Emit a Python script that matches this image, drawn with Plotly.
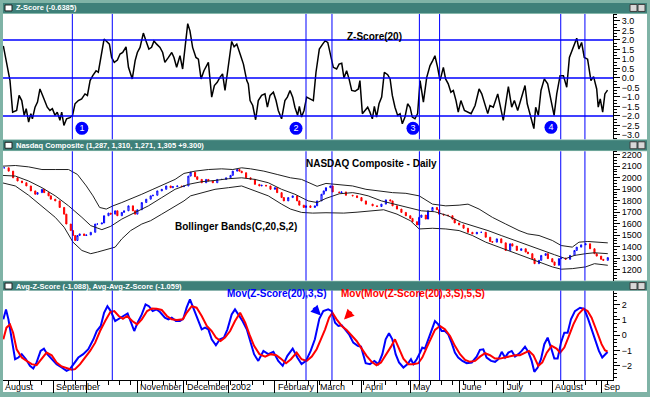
import plotly.graph_objects as go

W, H = 650, 397

# ---------------- data (x = trading-day index counted from 1 Aug 2001) ----------------
month_names = ["August", "September", "November", "December", "2002", "February", "March",
               "April", "May", "June", "July", "August", "Sep"]
month_start = [0, 23, 61, 82, 102, 123, 142, 162, 184, 206, 226, 248, 270]
month_ticks = [0, 23, 38, 61, 82, 102, 123, 142, 162, 184, 206, 226, 248, 270]
event_days = [31.7, 49.7, 137.0, 148.7, 188.1, 197.2, 251.8, 262.7]

z_idx = [0.6, 2.1, 3.6, 4.8, 6.6, 7.7, 8.9, 10, 10.9, 12, 13, 13.7, 14.9, 16, 17.1, 18.3, 19.4, 20.4,
         21.6, 22.7, 23.9, 24.9, 26.1, 26.9, 27.9, 29.1, 30.6, 31.8, 32.9, 34.4, 35.9, 37.4, 38.5, 39.7,
         40.9, 42.4, 43.4, 44.2, 45, 46, 47.2, 48.4, 49.4, 50.6, 52, 53.2, 54.4, 55.9, 57, 58.7, 60, 61,
         62.2, 63.7, 64.9, 66.2, 67.4, 68.5, 69.7, 71.2, 72.4, 73.4, 75, 76.5, 77.5, 78.7, 80.2, 81.4,
         82.5, 83.7, 84.7, 85.9, 87.4, 88.5, 89.7, 91, 93, 94.5, 95.7, 97, 98.2, 99.4, 100.5, 102, 103.5,
         104.6, 105.8, 107.3, 108.8, 110.3, 111, 111.8, 113, 114.3, 115.5, 117, 118.5, 119.6, 120.8,
         122.3, 123.5, 124.5, 126, 127.5, 128.6, 129.8, 131, 132, 133.2, 134, 135, 136.1, 137.3, 138.8,
         140.3, 141.5, 143, 144.5, 145.6, 146.8, 148.3, 149.3, 150.8, 151.9, 153.1, 154.1, 155.3, 156.4,
         157.6, 159.1, 160.6, 161.3, 162.4, 163.6, 164.8, 165.8, 166.9, 167.8, 168.8, 169.9, 171.1,
         172.3, 173.8, 174.9, 175.9, 177.1, 178.3, 179.4, 180.4, 181.6, 182.8, 183.9, 184.9, 186.1,
         187.3, 188.4, 189.9, 191.4, 192.9, 194.1, 195.1, 196.3, 197.4, 198.9, 199.9, 201.1, 202.3,
         203.4, 204.6, 205.6, 206.8, 208.4, 209.9, 211.4, 213.2, 215, 216.2, 217.4, 218.9, 219.9, 221.4,
         223.4, 224.4, 225.9, 227, 228.2, 229.7, 230.9, 232.4, 234.2, 235.7, 236.7, 238.4, 239.7, 240.5,
         241.7, 242.9, 244.4, 245.9, 247.4, 248.8, 250, 251.5, 253, 254.5, 255.7, 257.5, 259, 260,
         261.2, 262.4, 263.9, 265.4, 266.6, 268, 268.7, 269.6, 270.7, 271.7, 272.9]
z_val = [1.69, 0.73, -0.14, -1.8, -1.71, -0.92, -1.19, -1.97, -1.62, -2.32, -1.88, -2.15, -1.54, -1.27,
         -0.58, -0.92, -1.27, -1.54, -1.71, -1.62, -1.97, -1.8, -2.23, -1.8, -2.5, -2.15, -2.09, -1.97,
         -1.36, -1.19, -1.1, -0.84, -0.92, -0.14, 0.12, 0.38, 0.3, 0.82, 1.43, 2.04, 1.92, 1.78, 1.08,
         0.82, 0.94, 1.26, 1.34, 1.64, 0.56, -0.05, 0.91, 1.34, 1.61, 2.36, 1.95, 1.52, 1.61, 1.95,
         1.78, 1.61, 1.34, 0.82, 1.08, 1.34, 1.08, 0.56, 1.17, 0.47, 1.61, 2.86, 2.48, 1.61, 1.08, 0.99,
         -0.05, 0.38, 0.82, -1.01, -0.4, -0.23, 0.03, 0.21, -0.66, 0.73, 1.92, 1.64, 1.78, 1.26, 0.73,
         -0.14, -0.31, -1.19, -1.45, -2.2, -1.19, -0.92, -0.84, -1.54, -0.92, -0.75, -1.19, -1.71,
         -2.15, -1.19, -1.01, -0.66, -1.01, -1.54, -1.97, -1.5, -2.06, -1.71, -1.01, -1.1, -1.19, 0.3,
         1.52, 1.78, 1.95, 1.87, 1.17, 0.56, 0.47, 0.73, 0.77, 0.0, 0.38, -0.05, -0.66, -0.7, -0.58,
         -0.14, -1.88, -1.71, -1.54, -1.8, -2.15, -1.5, -2.06, -1.36, -1.01, 0.3, 0.17, -0.05, -0.92,
         -1.54, -1.97, -1.88, -2.41, -2.06, -1.36, -1.54, -2.06, -2.15, -1.88, -0.14, -1.27, 0.03, 0.65,
         0.91, 1.17, 0.56, -0.14, 0.56, -0.05, -0.31, -0.75, -0.66, -1.19, -1.8, -1.19, -1.71, -1.8,
         -1.88, -1.45, -0.58, -0.84, -1.27, -1.88, -1.45, -1.54, -0.84, -1.45, -2.23, -1.36, -0.45,
         -1.54, -1.19, -1.71, -0.92, -0.4, -1.36, -2.15, -2.67, -1.54, -1.97, -0.66, -0.05, -0.31,
         -1.19, -1.97, -0.84, 0.12, 0.12, -0.49, 1.08, 1.61, 2.09, 1.52, 1.87, 1.08, 0.99, -0.14, 0.07,
         -0.58, -1.54, -1.1, -1.8, -0.84, -0.64]

# Nasdaq closes
px_idx = [1, 3, 5, 7, 9, 11, 13, 15, 16, 18, 19, 21, 22, 24, 26, 28, 29, 31, 32, 33, 34, 35, 37, 38,
          40, 42, 43, 45, 46, 48, 49, 51, 52, 54, 55, 57, 59, 60, 61, 63, 65, 67, 68, 70, 72, 74, 76,
          77, 79, 81, 82, 84, 85, 87, 88, 90, 92, 93, 95, 97, 99, 101, 103, 104, 106, 107, 108, 110,
          112, 114, 116, 117, 119, 121, 123, 124, 126, 127, 129, 131, 133, 134, 136, 137, 139, 141,
          142, 144, 145, 146, 148, 149, 152, 153, 155, 158, 160, 162, 164, 167, 169, 171, 173, 175,
          176, 178, 180, 182, 184, 185, 187, 188, 189, 191, 192, 194, 196, 197, 199, 201, 203, 204,
          206, 208, 210, 212, 214, 216, 218, 220, 221, 223, 225, 227, 229, 230, 232, 234, 236, 237,
          239, 240, 242, 243, 245, 246, 248, 249, 251, 252, 254, 256, 258, 259, 261, 263, 265, 267,
          268, 270, 271, 273]
px_close = [2086, 2057, 1999, 1971, 1956, 1928, 1885, 1856, 1870, 1899, 1870, 1842, 1813, 1798, 1741,
            1683, 1597, 1540, 1497, 1454, 1497, 1511, 1497, 1502, 1525, 1597, 1597, 1606, 1669, 1692,
            1683, 1712, 1669, 1698, 1712, 1755, 1712, 1683, 1721, 1784, 1813, 1842, 1847, 1885, 1899,
            1928, 1913, 1922, 1928, 1922, 1928, 2014, 2048, 2008, 1985, 1956, 1985, 1971, 1956, 1985,
            1985, 1999, 2020, 2057, 2071, 2057, 2043, 1999, 1985, 1942, 1928, 1934, 1928, 1899, 1913,
            1870, 1827, 1798, 1827, 1842, 1798, 1761, 1741, 1755, 1741, 1755, 1798, 1856, 1885, 1913,
            1928, 1876, 1870, 1876, 1847, 1842, 1827, 1798, 1770, 1755, 1749, 1770, 1807, 1798, 1755,
            1727, 1698, 1669, 1646, 1617, 1589, 1655, 1675, 1640, 1712, 1741, 1721, 1683, 1675, 1669,
            1640, 1606, 1589, 1560, 1525, 1511, 1525, 1525, 1482, 1445, 1439, 1468, 1433, 1367, 1425,
            1405, 1367, 1382, 1353, 1339, 1296, 1252, 1281, 1324, 1339, 1296, 1267, 1238, 1296, 1301,
            1290, 1324, 1367, 1396, 1416, 1425, 1382, 1339, 1318, 1290, 1281, 1305]

bb_up_idx = [0, 6, 12, 18, 24, 30, 34, 38, 41, 44, 47, 50, 54, 58, 63, 68, 73, 78, 82, 87, 93, 99, 104,
             108, 112, 118, 124, 130, 135, 139, 142, 146, 152, 158, 164, 170, 176, 182, 188, 194, 200,
             206, 210, 215, 221, 227, 233, 237, 242, 248, 252, 257, 260, 264, 269, 273]
bb_up_val = [2100, 2106, 2094, 2071, 2071, 2071, 2028, 1928, 1842, 1741, 1727, 1755, 1784, 1813, 1856,
             1899, 1942, 1985, 2037, 2057, 2071, 2077, 2071, 2086, 2077, 2057, 2028, 1999, 1985, 1951,
             1925, 1950, 1942, 1928, 1899, 1885, 1870, 1864, 1842, 1770, 1755, 1761, 1770, 1727, 1655,
             1597, 1540, 1511, 1497, 1454, 1410, 1396, 1439, 1445, 1439, 1433]
bb_mid_idx = [0, 6, 12, 18, 24, 30, 36, 40, 45, 49, 54, 60, 66, 72, 78, 84, 90, 96, 102, 108, 114, 120,
              126, 132, 138, 142, 146, 152, 158, 161, 165, 171, 177, 183, 189, 195, 201, 207, 213, 219,
              225, 231, 237, 243, 249, 254, 258, 263, 267, 273]
bb_mid_val = [2020, 2014, 1971, 1913, 1842, 1755, 1655, 1583, 1548, 1577, 1640, 1698, 1755, 1827, 1899,
              1942, 1965, 1976, 1991, 1999, 1985, 1956, 1899, 1856, 1798, 1784, 1820, 1860, 1870, 1860,
              1842, 1798, 1770, 1741, 1712, 1704, 1669, 1612, 1577, 1540, 1497, 1454, 1410, 1367, 1330,
              1296, 1324, 1339, 1347, 1339]
bb_lo_idx = [0, 6, 12, 18, 24, 28, 32, 36, 40, 43, 48, 51, 54, 58, 63, 67, 72, 76, 82, 85, 90, 96, 102,
             108, 114, 120, 126, 130, 135, 140, 146, 154, 160, 166, 172, 178, 184, 188, 194, 200, 206,
             212, 218, 224, 230, 236, 242, 248, 252, 257, 263, 267, 273]
bb_lo_val = [1956, 1928, 1847, 1755, 1655, 1569, 1439, 1367, 1339, 1353, 1382, 1396, 1468, 1540, 1597,
             1626, 1683, 1727, 1798, 1842, 1870, 1899, 1913, 1928, 1885, 1842, 1770, 1727, 1698, 1692,
             1695, 1692, 1700, 1712, 1721, 1683, 1626, 1554, 1560, 1554, 1540, 1497, 1439, 1396, 1353,
             1310, 1267, 1224, 1204, 1209, 1224, 1252, 1238]

avg_idx = [0.6, 1.8, 2.9, 4.4, 5.9, 7.4, 8.9, 10.8, 12.6, 14.1, 15.6, 17.4, 18.9, 20.4, 22.4, 24.6,
           26.9, 29.1, 30.6, 32.1, 34.4, 36.6, 38.9, 41.2, 42.7, 44.5, 46, 47.5, 49, 51, 52.9, 54.7,
           56.6, 58.1, 59.6, 61.1, 63, 64.7, 66.2, 67.9, 69.7, 71.2, 73.4, 75, 76.5, 78.4, 80.2, 81.7,
           83.2, 84.7, 86.2, 88, 90, 91.5, 93, 94.5, 96.4, 98.2, 100, 101.6, 103.5, 105, 106.5, 108.4,
           110.3, 112.1, 113.6, 115.5, 117.8, 120, 122.3, 124.5, 126.5, 128.6, 131, 133.1, 135, 137,
           139.1, 141, 143, 144.8, 147, 148.6, 150.1, 151.6, 153.1, 154.6, 156.4, 158.3, 160.3, 161.8,
           162.8, 163.9, 165.8, 167.8, 169.6, 171.4, 172.9, 174.4, 175.9, 177.4, 178.9, 180.9, 182.8,
           184.3, 185.4, 186.9, 188.4, 189.4, 190.6, 192.1, 193.6, 195.1, 196.6, 198.1, 199.6, 201.1,
           202.6, 204.1, 205.6, 207.5, 209.4, 211.7, 213.9, 215.4, 216.9, 218.4, 220.4, 222.2, 223.7,
           225.2, 226.7, 228.2, 229.7, 231.2, 232.7, 234.2, 235.7, 237.2, 238.7, 239.9, 241.4, 242.9,
           244.4, 245.9, 247.4, 248.9, 250.4, 251.9, 253.4, 254.9, 256.4, 258.2, 260.5, 262.4, 264.2,
           265.7, 267.5, 269, 270.5, 272, 272.9]
avg_val = [1.04, 1.69, 1.04, -0.26, -1.56, -1.45, -1.23, -1.56, -1.99, -2.16, -1.77, -1.02, -0.87, -1.23,
           -1.56, -1.88, -2.1, -2.32, -2.21, -1.88, -1.45, -1.23, -0.91, -0.26, 0.28, 0.61, 1.47, 1.9,
           1.58, 0.93, 1.08, 1.26, 1.43, 0.82, 0.28, 0.82, 1.36, 2.01, 1.9, 1.58, 1.69, 1.52, 1.15,
           1.04, 1.15, 0.93, 0.93, 1.08, 1.8, 2.34, 1.8, 1.04, 0.39, 0.5, 0.39, -0.26, -0.65, -0.26,
           -0.15, 0.39, 1.36, 1.69, 1.36, 0.93, 0.39, -0.58, -1.23, -1.67, -1.02, -1.23, -1.08, -1.67,
           -1.99, -1.34, -0.87, -1.45, -1.88, -1.67, -1.02, -0.26, 1.08, 1.58, 1.69, 1.58, 0.82, 0.61,
           0.65, 0.39, 0.06, -0.48, -0.69, -0.74, -1.23, -1.82, -1.88, -1.67, -1.88, -1.23, -0.26,
           0.13, -0.26, -1.23, -1.77, -2.1, -1.88, -1.56, -1.88, -1.56, -1.13, -0.8, -0.87, -0.26,
           0.39, 0.93, 0.71, 0.28, 0.28, 0.06, -0.48, -1.13, -1.45, -1.67, -1.82, -1.77, -1.39, -0.95,
           -0.91, -1.45, -1.67, -1.73, -1.56, -1.08, -1.45, -1.13, -1.02, -1.39, -1.23, -1.02, -0.74,
           -1.08, -1.67, -2.38, -2.1, -1.56, -0.58, -0.15, -0.8, -1.52, -1.52, -0.48, 0.17, 0.17, 1.04,
           1.58, 1.8, 1.73, 1.04, 0.39, -0.37, -1.02, -1.45, -1.23, -1.09]

avg2_idx = [0.6, 2, 3.6, 5, 6.6, 8.9, 11.1, 13.4, 15.6, 17.9, 20.1, 22.4, 24.6, 26.9, 29.1, 31.4, 32.9,
            35.2, 37.4, 39.7, 42, 44.2, 46.5, 48.8, 50.6, 52.6, 54.5, 56.4, 58.7, 60.9, 63, 65.4, 67.6,
            69.7, 72, 74.3, 76.5, 78.8, 81.5, 83.2, 85.5, 87.7, 90, 92.3, 94.5, 96.4, 98.5, 100.5,
            102.8, 105, 107.3, 109.6, 111.5, 113.6, 116, 118.6, 121.1, 123.6, 125.6, 128, 130.2, 132.8,
            135, 137.3, 139.6, 141.8, 143.7, 145.6, 147.4, 148.9, 150.8, 153.1, 155.3, 157.6, 159.8,
            162.1, 164.3, 166.6, 168.8, 170.8, 172.9, 175.3, 177.1, 178.9, 180.9, 183.1, 185.4, 187.6,
            189.4, 191.4, 193.3, 195.1, 197.4, 199.6, 201.9, 204.1, 206.4, 208.7, 210.9, 213.2, 215.4,
            217.7, 219.9, 222.2, 224.4, 226.7, 228.9, 231.2, 233.4, 235.7, 237.5, 239.5, 241.7, 243.5,
            245.5, 247.7, 249.9, 251.5, 253.4, 255.2, 257.5, 259.7, 262, 263.9, 265.7, 268, 270.2,
            271.7, 272.9]
avg2_val = [-0.26, 0.5, 0.71, 0.17, -0.91, -1.45, -1.67, -1.88, -1.95, -1.56, -1.13, -1.3, -1.77, -2.03,
            -2.16, -2.25, -2.21, -1.88, -1.45, -1.02, -0.48, 0.28, 0.93, 1.52, 1.58, 1.26, 1.08, 1.26,
            0.93, 0.71, 1.04, 1.58, 1.75, 1.73, 1.65, 1.26, 1.04, 1.0, 1.04, 1.47, 1.9, 1.8, 1.26, 0.61,
            0.28, -0.15, -0.37, -0.15, 0.28, 0.93, 1.47, 0.82, 0.06, -0.69, -1.23, -1.39, -1.23, -1.3,
            -1.52, -1.82, -1.56, -1.13, -1.56, -1.67, -1.39, -0.91, -0.26, 0.39, 1.15, 1.47, 1.04, 0.61,
            0.35, -0.04, -0.37, -0.87, -1.34, -1.73, -1.95, -1.77, -1.3, -0.74, -0.26, -0.87, -1.52,
            -1.88, -1.88, -1.82, -1.45, -0.8, -0.15, 0.35, 0.61, 0.39, -0.04, -0.69, -1.23, -1.6, -1.73,
            -1.67, -1.39, -1.17, -1.3, -1.52, -1.52, -1.45, -1.39, -1.3, -1.3, -1.13, -1.02, -1.3, -1.99,
            -1.77, -1.13, -0.69, -0.87, -1.13, -0.8, -0.15, 0.71, 1.36, 1.73, 1.58, 1.15, 0.28, -0.58,
            -0.97, -1.06]

# circled markers on the Z-score pane
badge_idx = [36.0, 132.5, 185.2, 247.4]
badge_val = [-2.65, -2.65, -2.65, -2.6]
badge_txt = ["1", "2", "3", "4"]

# ---------------- geometry helpers ----------------
def px(x):
    return x / W


def py(y):
    return 1 - y / H


FRAME = "#7fb3a6"
TITLE = "#3e8079"
BLUE = "#0000ff"
RED = "#ff0000"

fig = go.Figure()

px_open = [px_close[0]] + px_close[:-1]
px_hi = [max(o, c) for o, c in zip(px_open, px_close)]
px_lo = [min(o, c) for o, c in zip(px_open, px_close)]

fig.add_trace(go.Scatter(x=z_idx, y=z_val, mode="lines", line=dict(color="black", width=1.5),
                         xaxis="x", yaxis="y", hoverinfo="skip"))
fig.add_trace(go.Scatter(x=badge_idx, y=badge_val, mode="markers+text", text=badge_txt,
                         textposition="middle center",
                         textfont=dict(color="white", size=9, family="Liberation Sans"),
                         marker=dict(size=13, color=BLUE), xaxis="x", yaxis="y", cliponaxis=False))

for bx, bv in [(bb_up_idx, bb_up_val), (bb_mid_idx, bb_mid_val), (bb_lo_idx, bb_lo_val)]:
    fig.add_trace(go.Scatter(x=bx, y=bv, mode="lines", line=dict(color="#202020", width=1),
                             xaxis="x", yaxis="y2"))
fig.add_trace(go.Candlestick(x=px_idx, open=px_open, high=px_hi, low=px_lo, close=px_close,
                             increasing=dict(line=dict(color=BLUE, width=1), fillcolor="white"),
                             decreasing=dict(line=dict(color=RED, width=1), fillcolor=RED),
                             whiskerwidth=0, xaxis="x", yaxis="y2"))

fig.add_trace(go.Scatter(x=avg_idx, y=avg_val, mode="lines", line=dict(color=BLUE, width=2),
                         xaxis="x", yaxis="y3"))
fig.add_trace(go.Scatter(x=avg2_idx, y=avg2_val, mode="lines", line=dict(color=RED, width=2),
                         xaxis="x", yaxis="y3"))

shapes = []
# white pane backgrounds (incl. axis label strip)
for (t, b) in [(13, 139), (151, 281), (291, 393)]:
    shapes.append(dict(type="rect", xref="paper", yref="paper", x0=px(3), x1=px(647), y0=py(b), y1=py(t),
                       fillcolor="white", line=dict(width=0), layer="below"))
# title bars
for (t, b) in [(2, 12), (140, 150), (282, 291)]:
    shapes.append(dict(type="rect", xref="paper", yref="paper", x0=px(3), x1=px(647), y0=py(b), y1=py(t),
                       fillcolor=TITLE, line=dict(width=0), layer="above"))
    mid = (t + b) / 2
    shapes.append(dict(type="rect", xref="paper", yref="paper", x0=px(5), x1=px(12), y0=py(mid + 3),
                       y1=py(mid - 3), fillcolor="white", line=dict(color="#202020", width=1)))
    for x0 in (630, 638):
        shapes.append(dict(type="rect", xref="paper", yref="paper", x0=px(x0), x1=px(x0 + 7),
                           y0=py(mid + 3.5), y1=py(mid - 3.5), fillcolor="#d8d8d8",
                           line=dict(color="#404040", width=1)))
# horizontal reference lines in the Z-score pane
for lvl in (2, 0, -2):
    shapes.append(dict(type="line", xref="x domain", yref="y", x0=0, x1=1, y0=lvl, y1=lvl,
                       line=dict(color=BLUE, width=1.6)))
# vertical event lines in every pane
for yr in ("y domain", "y2 domain", "y3 domain"):
    for d in event_days:
        shapes.append(dict(type="line", xref="x", yref=yr, x0=d, x1=d, y0=0, y1=1,
                           line=dict(color=BLUE, width=1)))

annotations = []
titles = [("Z-Score (-0.6385)", 7), ("Nasdaq Composite (1,287, 1,310, 1,271, 1,305 +9.300)", 145),
          ("Avg-Z-Score (-1.088), Avg-Avg-Z-Score (-1.059)", 286.5)]
for txt, yy in titles:
    annotations.append(dict(text="<b>" + txt + "</b>", x=px(14), y=py(yy), xref="paper", yref="paper",
                            xanchor="left", yanchor="middle", showarrow=False,
                            font=dict(color="white", size=7.5, family="Liberation Sans")))
for name, d in zip(month_names, month_start):
    annotations.append(dict(text=name, x=d + 0.5, y=py(387.5), xref="x", yref="paper", xanchor="left",
                            yanchor="middle", showarrow=False,
                            font=dict(color="black", size=9, family="Liberation Sans")))
bold = dict(family="Liberation Sans", size=10)
annotations += [
    dict(text="<b>Z-Score(20)</b>", x=px(374.5), y=py(28), xref="paper", yref="paper", showarrow=False,
         font=dict(color="black", **bold)),
    dict(text="<b>NASDAQ Composite - Daily</b>", x=px(371.5), y=py(163), xref="paper", yref="paper",
         showarrow=False, font=dict(color="black", **bold)),
    dict(text="<b>Bollinger Bands(C,20,S,2)</b>", x=px(236), y=py(227), xref="paper", yref="paper",
         showarrow=False, font=dict(color="black", **bold)),
    dict(text="<b>Mov(Z-Score(20),3,S)</b>", x=px(276), y=py(302), xref="paper", yref="paper",
         showarrow=False, font=dict(color=BLUE, **bold)),
    dict(text="<b>Mov(Mov(Z-Score(20),3,S),5,S)</b>", x=px(413), y=py(302), xref="paper", yref="paper",
         showarrow=False, font=dict(color=RED, **bold)),
    dict(text="", x=px(321), y=py(316), xref="paper", yref="paper", showarrow=True, ax=-9, ay=-9,
         arrowhead=2, arrowsize=0.8, arrowwidth=2.5, arrowcolor=BLUE),
    dict(text="", x=px(344), y=py(320), xref="paper", yref="paper", showarrow=True, ax=9, ay=-9,
         arrowhead=2, arrowsize=0.8, arrowwidth=2.5, arrowcolor=RED),
]

xdom = [px(3), px(613)]
axfont = dict(family="Liberation Sans", size=9, color="black")


def yax(dom, rng, dtick, minor, fmt):
    return dict(domain=dom, range=rng, side="right", anchor="x", showgrid=False, zeroline=False,
                showline=True, linecolor="black", linewidth=1, ticks="outside", ticklen=6,
                tickcolor="black", tick0=0, dtick=dtick, tickformat=fmt, tickfont=axfont,
                minor=dict(dtick=minor, ticklen=3, tickcolor="black", ticks="outside", tick0=0))


fig.update_layout(
    width=W, height=H, margin=dict(l=0, r=0, t=0, b=0), showlegend=False,
    paper_bgcolor=FRAME, plot_bgcolor="white",
    xaxis=dict(domain=xdom, range=[0.45, 275.35], anchor="y3", showgrid=False, zeroline=False,
               showline=True, linecolor="black", linewidth=1, tickmode="array", tickvals=month_ticks,
               ticks="outside", ticklen=12, tickcolor="black", showticklabels=False,
               rangeslider=dict(visible=False),
               minor=dict(tick0=3, dtick=5, ticklen=4, tickcolor="black", ticks="outside")),
    yaxis=yax([py(139), py(13)], [-3.23, 3.37], 0.5, 0.5 / 3, ".1f"),
    yaxis2=yax([py(281), py(151)], [1105, 2230], 100, 25, "d"),
    yaxis3=yax([py(381), py(291)], [-2.92, 2.92], 1, 0.25, "d"),
    shapes=shapes, annotations=annotations,
)

fig.write_html("out.html", config={"displayModeBar": False},
               post_script="document.body.style.margin='0px';document.body.style.overflow='hidden';")
